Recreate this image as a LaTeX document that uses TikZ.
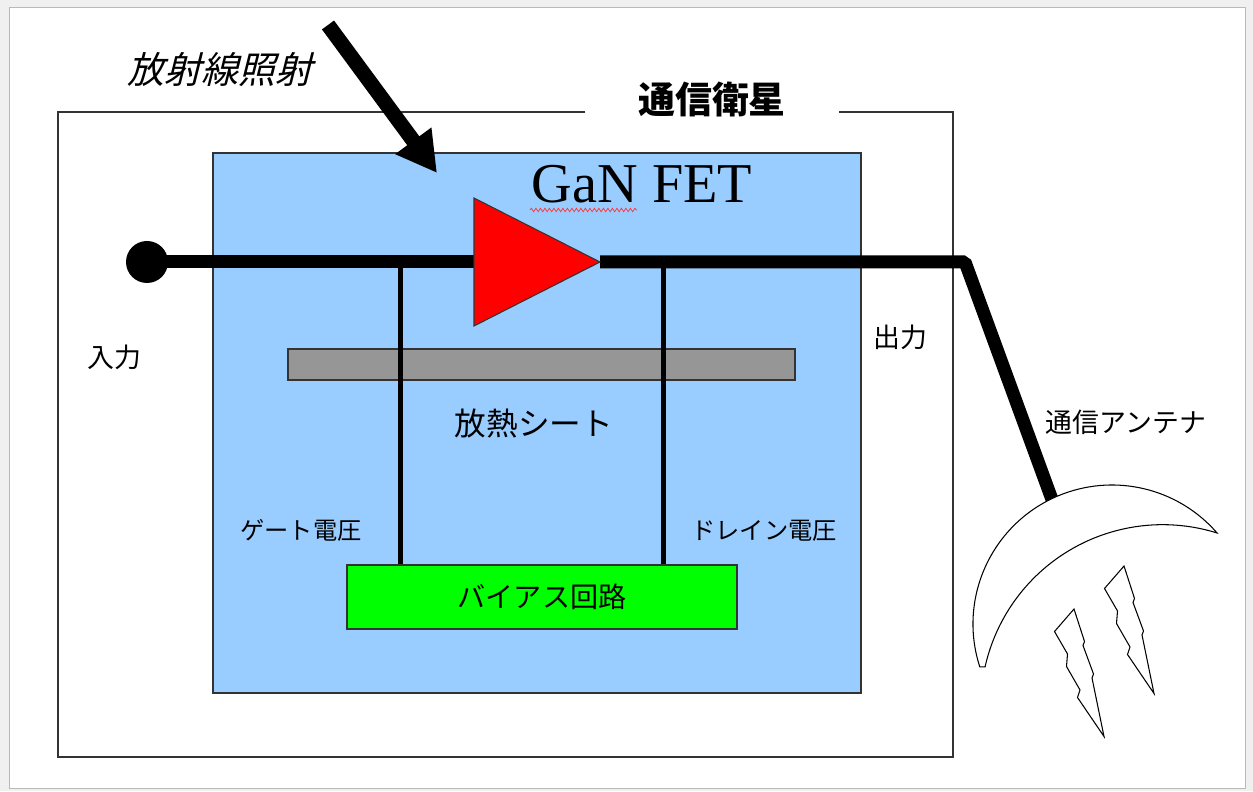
\documentclass[tikz,border=0pt]{standalone}
\usepackage{fontspec}
\setmainfont{Liberation Serif}
\newfontfamily\jpfont{Noto Sans CJK JP}
\newfontfamily\jpslant[FakeSlant=0.25]{Noto Sans CJK JP}
\usetikzlibrary{arrows.meta,decorations.pathmorphing,calc}

\definecolor{fetblue}{RGB}{153,204,255}
\definecolor{sheetgray}{RGB}{150,150,150}
\definecolor{biasgreen}{RGB}{0,255,0}

\tikzset{
	bolt/.pic={
		\draw[fill=white,line width=0.6pt] (0,0) -- (-0.39,-0.45) -- (-0.13,-0.9) -- (-0.15,-1.15)
			-- (0.12,-1.62) -- (0.07,-1.77) -- (0.6,-2.55) -- (0.36,-1.38)
			-- (0.39,-1.3) -- (0.18,-0.73) -- (0.21,-0.65) -- cycle;
	}
}

\begin{document}
\begin{tikzpicture}[
			frame/.style={draw=black!80,line width=0.8pt},
			wire/.style={line width=0.26cm},
			biasline/.style={line width=0.1cm},
			label/.style={font=\jpfont\fontsize{15.3}{15.3}\selectfont},
			small label/.style={font=\jpfont\fontsize{13.8}{13.8}\selectfont},
			box/.style={draw=black!80,line width=0.6pt,inner sep=0pt}
			]
			
			% page
			\useasboundingbox (0,0) rectangle (25.06,15.82);
			\fill[gray!12] (0,0) rectangle (25.06,15.82);
			\filldraw[fill=white,draw=gray!55] (0.18,0.06) rectangle (24.9,15.68);
			
			% satellite
			\node[font=\jpfont\fontsize{21}{21}\selectfont\bfseries,inner xsep=1.05cm,inner ysep=0pt] (sat) at (14.24,13.84) {通信衛星};
			\draw[frame] (sat.west |- 0,13.58) -- (1.16,13.58) -- (1.16,0.68) -- (19.06,0.68) -- (19.06,13.58) -- (sat.east |- 0,13.58);
			
			% FET package
			\node[box,fill=fetblue,minimum width=12.96cm,minimum height=10.8cm] (fet) at (10.74,7.36) {};
			\node[font=\fontsize{32}{32}\selectfont] (fettitle) at (12.84,12.14) {GaN FET};
			\draw[red!80,line width=0.4pt,decorate,decoration={snake,amplitude=0.035cm,segment length=0.09cm}] (10.6,11.62) -- (12.74,11.62);
			\node[box,fill=sheetgray,minimum width=10.14cm,minimum height=0.62cm] (sheet) at (10.83,8.53) {};
			\node[label,font=\jpfont\fontsize{18}{18}\selectfont] (sheettext) at (10.68,7.34) {放熱シート};
			
			% signal path
			\node[circle,fill=black,minimum size=0.84cm,inner sep=0pt] (in) at (2.94,10.58) {};
			\coordinate (ampin) at (9.48,10.58);
			\coordinate (ampout) at (12.0,10.58);
			\coordinate (bend) at (19.3,10.58);
			\coordinate (feed) at (21.08,5.72);
			\coordinate (gate) at (8.0,10.58);
			\coordinate (drain) at (13.26,10.58);
			\draw[wire] (in.center) -- (ampin);
			\draw[wire,line join=bevel] (ampout) -- (bend) -- (feed);
			
			% bias
			\node[box,fill=biasgreen,minimum width=7.8cm,minimum height=1.28cm,font=\jpfont\fontsize{16}{16}\selectfont] (biasckt) at (10.84,3.88) {バイアス回路};
			\draw[biasline] (gate) -- (gate |- biasckt.north);
			\draw[biasline] (drain) -- (drain |- biasckt.north);
			\node[small label] (gatev) at (6.02,5.22) {ゲート電圧};
			\node[small label] (drainv) at (15.28,5.2) {ドレイン電圧};
			
			% amplifier
			\filldraw[fill=red,draw=black!80,line width=0.6pt] (ampin) ++(0,1.28) -- (ampout) -- ($(ampin)+(0,-1.28)$) -- cycle;
			
			\node[label] (intext) at (2.29,8.68) {入力};
			\node[label] (outtext) at (18.0,9.08) {出力};
			
			% antenna dish: two circular arcs
			\filldraw[fill=white,draw=black,line width=0.6pt] (22.24,3.34) ++(198:2.78) arc[start angle=198,end angle=40.9,radius=2.78]
				arc[start angle=72.6,end angle=167.4,radius=3.64] -- cycle;
			\pic at (21.48,3.64) {bolt};
			\pic at (22.48,4.5) {bolt};
			\node[label] (antenna) at (22.52,7.38) {通信アンテナ};
			
			% radiation
			\node[font=\jpslant\fontsize{21}{21}\selectfont] (rad) at (4.4,14.42) {放射線照射};
			\coordinate (radfrom) at (6.56,15.32);
			\coordinate (radto) at (8.74,12.36);
			\draw[line width=0.3cm,-{Triangle[length=0.8cm,width=0.84cm]}] (radfrom) -- (radto);
		\end{tikzpicture}
\end{document}
